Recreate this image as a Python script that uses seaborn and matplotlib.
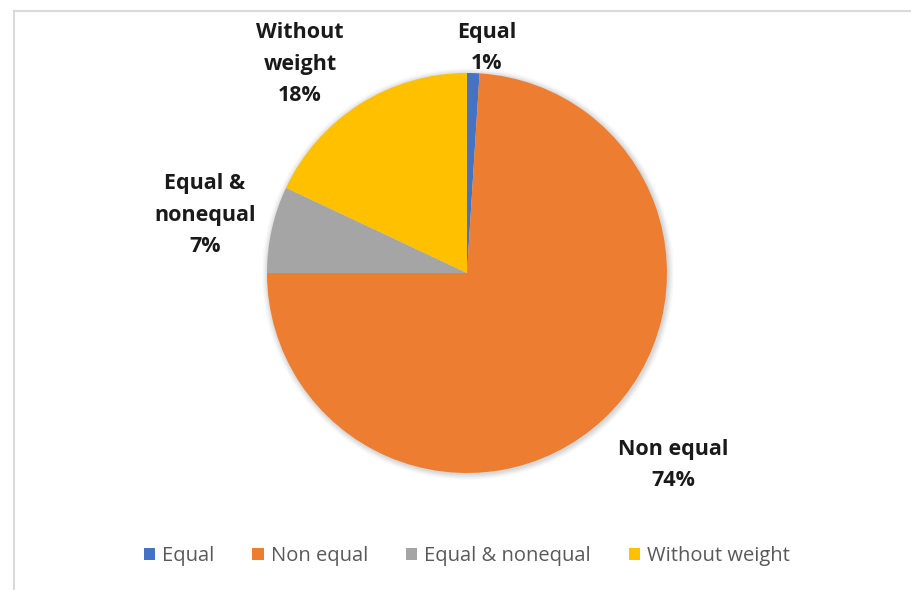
import matplotlib
matplotlib.use("Agg")
import matplotlib.pyplot as plt
from matplotlib.patches import Patch, Circle
from matplotlib.lines import Line2D
import seaborn as sns

# Share of weighting schemes
categories = ["Equal", "Non equal", "Equal & nonequal", "Without weight"]
shares = [1, 74, 7, 18]
slice_labels = ["Equal\n1%", "Non equal\n74%", "Equal &\nnonequal\n7%", "Without\nweight\n18%"]

sns.set_theme(style="white")
plt.rcParams["font.family"] = ["Open Sans", "DejaVu Sans"]

colors = sns.color_palette(["#4472C4", "#ED7D31", "#A5A5A5", "#FFC000"])

W, H = 912, 590
fig = plt.figure(figsize=(W / 100, H / 100), dpi=100)
ax = fig.add_axes([0, 0, 1, 1])

cx, cy, r = 467, H - 273, 200

# soft glow around the pie
for k, a in zip(range(6, 0, -1), [0.03, 0.04, 0.05, 0.06, 0.07, 0.08]):
    ax.add_patch(Circle((cx + 1, cy - 1), r + k, color="#808080", alpha=a, lw=0, zorder=0))

wedges, _ = ax.pie(shares, colors=colors, startangle=90, counterclock=False,
                   center=(cx, cy), radius=r, frame=True,
                   wedgeprops=dict(linewidth=0, zorder=2))

ax.set_xlim(0, W)
ax.set_ylim(0, H)
ax.set_aspect("equal")
ax.axis("off")

# Slice annotations (pixel positions measured from the top edge)
label_pos = [(487, 48), (673, 465), (205, 215), (300, 64)]
for (x, y), txt in zip(label_pos, slice_labels):
    ax.text(x, H - y, txt, ha="center", va="center", fontsize=15.5,
            fontweight="bold", color="#1a1a1a", linespacing=1.65)

# Chart frame: top and left edges
ax.add_line(Line2D([14, W], [H - 11, H - 11], color="#d9d9d9", lw=1.5))
ax.add_line(Line2D([14, 14], [H - 11, 0], color="#d9d9d9", lw=1.5))

handles = [Patch(facecolor=c, edgecolor="none") for c in colors]
fig.legend(handles, categories, loc="center", bbox_to_anchor=(467 / W, 1 - 556 / H),
           ncol=4, frameon=False, fontsize=14.5, handlelength=0.55, handleheight=0.55,
           handletextpad=0.35, columnspacing=1.9, labelcolor="#595959")

fig.savefig("out.png", dpi=100)
